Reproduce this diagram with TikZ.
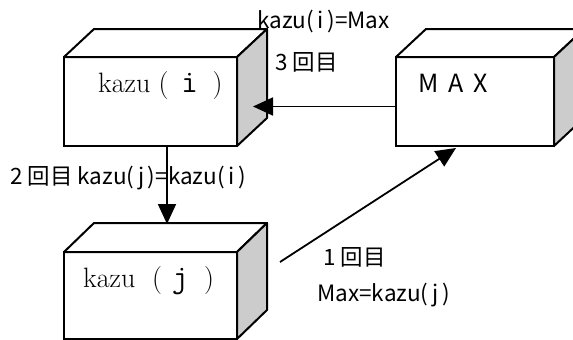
\documentclass[tikz,border=0pt]{standalone}
\usepackage{fontspec}
\newfontfamily\jp{Noto Sans CJK JP}
\usetikzlibrary{arrows.meta}
\tikzset{
  front/.style={draw, line width=2pt, fill=white, outer sep=0pt, inner sep=0pt},
  topface/.style={draw, line width=2pt, fill=white, line join=round},
  sideface/.style={draw, line width=2pt, fill=black!20, line join=round},
  conn/.style={line width=1.8pt, -{Triangle[length=20pt,width=18pt]}},
  jlabel/.style={font=\jp\fontsize{22.5}{22.5}\selectfont, inner sep=0pt, anchor=west},
  boxtext/.style={font=\fontsize{28}{28}\selectfont, inner sep=0pt, anchor=west}
}
\newcommand\drawcuboid[4]{% name, width, height, dy
  \draw[topface] (#1.north west) -- ++(30,-#4) -- ++(#2,0) -- (#1.north east) -- cycle;
  \draw[sideface] (#1.north east) -- ++(30,-#4) -- ++(0,#3) -- (#1.south east) -- cycle;
}
\newcommand\ttbig[1]{{\fontsize{32}{32}\selectfont\ttfamily #1}}
\begin{document}
\begin{tikzpicture}[x=1pt,y=-1pt]
\path[use as bounding box, clip] (0,0) rectangle (573,340);
% boxes
\node[front, minimum width=173pt, minimum height=89pt] (bi) at (150.5,101.5) {};
\drawcuboid{bi}{173}{89}{28}
\node[front, minimum width=158pt, minimum height=89pt] (bm) at (475,101.5) {};
\drawcuboid{bm}{158}{89}{28}
\node[front, minimum width=173pt, minimum height=87pt] (bj) at (150.5,295.5) {};
\drawcuboid{bj}{173}{87}{29}
% box texts
\node[boxtext] (ti) at (98,86) {\makebox[53pt][l]{kazu}\makebox[25pt][c]{(}\makebox[27pt][c]{\ttbig{i}}\makebox[29pt][c]{)}};
\node[boxtext] (tj) at (83,281) {\makebox[50pt][l]{kazu}\hspace{12pt}\makebox[24pt][c]{(}\makebox[22pt][c]{\ttbig{j}}\makebox[36pt][c]{)}};
\node[font=\jp\fontsize{25}{25}\selectfont, inner sep=0pt, anchor=west] (tm) at (418,83) {M\hspace{10pt}A\hspace{10pt}X};
% connectors
\coordinate (bjtop) at (167,224);
\coordinate (biside) at (253,106.5);
\coordinate (a3s) at (280,262);
\coordinate (a3e) at (456,148);
\draw[conn] (bi.south -| bjtop) -- (bjtop);
\draw[conn] (bm.west |- biside) -- (biside);
\draw[conn] (a3s) -- (a3e);
% labels
\node[jlabel] (l1) at (257,22) {kazu(\,i\,)=Max};
\node[jlabel] (l2) at (275,62) {3 回目};
\node[jlabel] (l3) at (10,178) {2 回目 kazu(\,j\,)=kazu(\,i\,)};
\node[jlabel] (l4) at (323,257) {1 回目};
\node[jlabel] (l5) at (317,295) {Max=kazu(\,j\,)};
\end{tikzpicture}
\end{document}
